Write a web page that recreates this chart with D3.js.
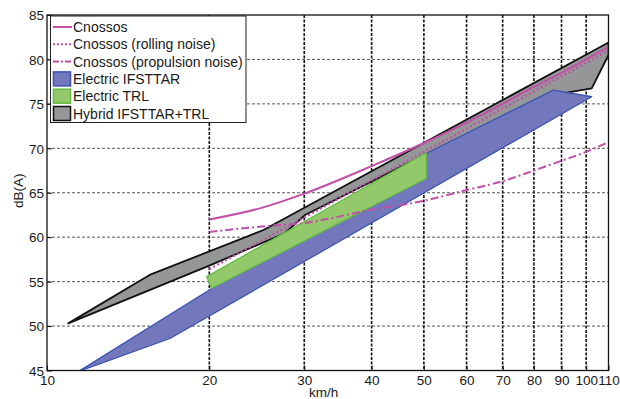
<!DOCTYPE html>
<html>
<head>
<meta charset="utf-8">
<script src="https://cdn.jsdelivr.net/npm/d3@7"></script>
<style>
  html, body { margin: 0; padding: 0; background: #fff; }
  svg { display: block; font-family: "Liberation Sans", Arial, sans-serif; }
</style>
</head>
<body>
<svg id="chart" width="620" height="399"></svg>
<script>
// ---- data ----
const speedTicks = [10, 20, 30, 40, 50, 60, 70, 80, 90, 100, 110];
const dbTicks = [45, 50, 55, 60, 65, 70, 75, 80, 85];

const lineSpeeds = [20, 25, 30, 40, 50, 60, 70, 80, 90, 100, 110];
const cnossos    = [62.0, 63.3, 64.9, 68.0, 70.6, 72.9, 75.0, 76.9, 78.5, 80.0, 81.4];
const rolling    = [56.4, 59.6, 62.2, 66.4, 69.6, 72.2, 74.5, 76.4, 78.1, 79.6, 81.0];
const propulsion = [60.6, 61.2, 61.6, 63.1, 64.1, 65.3, 66.3, 67.5, 68.6, 69.6, 70.7];

const hybridSpeeds = [10.95, 15.5, 25.2, 110, 110, 102.4, 87, 50, 30.1, 27.6, 20];
const hybridDb     = [50.3, 55.75, 60.81, 81.9, 80.5, 76.75, 76.0, 69.2, 62.5, 60.44, 56.8];

const ifsttarSpeeds = [11.45, 16.9, 102.4, 86.9, 50, 20];
const ifsttarDb     = [44.9, 48.6, 75.8, 76.55, 69.3, 54.06];

const trlSpeeds = [19.78, 50.5, 50.5, 20.2];
const trlDb     = [55.56, 69.5, 66.6, 54.25];

const legendLabels = ["Cnossos", "Cnossos (rolling noise)", "Cnossos (propulsion noise)",
                      "Electric IFSTTAR", "Electric TRL", "Hybrid IFSTTAR+TRL"];

// ---- styles ----
const magenta = "#c24fa7";
const blueFill = "#7378bc", blueStroke = "#3b54b3";
const greenFill = "#93c96b", greenStroke = "#66bb44";
const grayFill = "#959698", grayStroke = "#111";

const L = 47, R = 608.5, T = 15, B = 370.5;
const svg = d3.select("#chart");
const x = d3.scaleLog().domain([10, 110]).range([L, R]);
const y = d3.scaleLinear().domain([45, 85]).range([B, T]);

svg.append("defs").append("clipPath").attr("id", "clip")
  .append("rect").attr("x", L).attr("y", T).attr("width", R - L).attr("height", B - T);

// grid
const grid = svg.append("g");
grid.selectAll("line.h").data(dbTicks.slice(1, -1)).join("line")
  .attr("x1", L).attr("x2", R).attr("y1", d => y(d)).attr("y2", d => y(d))
  .attr("stroke", "#444").attr("stroke-width", 0.9).attr("stroke-dasharray", "3,2");
grid.selectAll("line.v").data(speedTicks.slice(1, -1)).join("line")
  .attr("x1", d => x(d)).attr("x2", d => x(d)).attr("y1", T).attr("y2", B)
  .attr("stroke", "#111").attr("stroke-width", 1.6).attr("stroke-dasharray", "3,1.5");

// polygons
const plot = svg.append("g").attr("clip-path", "url(#clip)");
const poly = (sp, db) => sp.map((s, i) => [x(s), y(db[i])]).map(p => p.join(",")).join(" ");

plot.append("polygon").attr("points", poly(hybridSpeeds, hybridDb))
  .attr("fill", grayFill).attr("stroke", grayStroke).attr("stroke-width", 1.8)
  .attr("stroke-linejoin", "round");
plot.append("polygon").attr("points", poly(ifsttarSpeeds, ifsttarDb))
  .attr("fill", blueFill).attr("stroke", blueStroke).attr("stroke-width", 1.3)
  .attr("stroke-linejoin", "round");
plot.append("polygon").attr("points", poly(trlSpeeds, trlDb))
  .attr("fill", greenFill).attr("stroke", greenStroke).attr("stroke-width", 1.3)
  .attr("stroke-linejoin", "round");

// lines
const line = d3.line().x(d => x(d[0])).y(d => y(d[1])).curve(d3.curveMonotoneX);
const zip = vals => lineSpeeds.map((s, i) => [s, vals[i]]);
plot.append("path").attr("d", line(zip(propulsion))).attr("fill", "none")
  .attr("stroke", magenta).attr("stroke-width", 2).attr("stroke-dasharray", "8,3,2,3");
plot.append("path").attr("d", line(zip(rolling))).attr("fill", "none")
  .attr("stroke", magenta).attr("stroke-width", 2.2).attr("stroke-dasharray", "2,2.5");
plot.append("path").attr("d", line(zip(cnossos))).attr("fill", "none")
  .attr("stroke", magenta).attr("stroke-width", 2);

// axes frame
const fontSize = 13.5;
const xAxis = d3.axisBottom(x).tickValues(speedTicks).tickFormat(d3.format("d"))
  .tickSizeInner(-5).tickSizeOuter(0).tickPadding(8);
const yAxis = d3.axisLeft(y).tickValues(dbTicks).tickFormat(d3.format("d"))
  .tickSizeInner(-5).tickSizeOuter(0).tickPadding(3);
const gx = svg.append("g").attr("transform", `translate(0,${B})`).call(xAxis);
const gy = svg.append("g").attr("transform", `translate(${L},0)`).call(yAxis);
[gx, gy].forEach(g => {
  g.selectAll("text").attr("font-size", fontSize).attr("fill", "#1a1a1a")
    .attr("font-family", "Liberation Sans, Arial, sans-serif");
  g.selectAll("line").attr("stroke", "#111");
  g.select(".domain").remove();
});
gx.selectAll("text").attr("dy", "0.5em");
gy.selectAll("text").attr("dy", "0.35em");
svg.append("rect").attr("x", L).attr("y", T).attr("width", R - L).attr("height", B - T)
  .attr("fill", "none").attr("stroke", "#111").attr("stroke-width", 1.3);

// axis labels
svg.append("text").attr("x", (L + R) / 2 - 4).attr("y", 397).attr("text-anchor", "middle")
  .attr("font-size", fontSize).attr("fill", "#1a1a1a").text("km/h");
svg.append("text").attr("transform", `translate(23,${(T + B) / 2 - 2}) rotate(-90)`)
  .attr("text-anchor", "middle").attr("font-size", fontSize).attr("fill", "#1a1a1a").text("dB(A)");

// legend
const legendFont = 14;
const lg = svg.append("g");
lg.append("rect").attr("x", 50.5).attr("y", 16).attr("width", 195.5).attr("height", 106.5)
  .attr("fill", "#fff").attr("stroke", "#222").attr("stroke-width", 1);
const rowY = i => 27 + i * 17.3;
const styles = [
  {type: "line", dash: null},
  {type: "line", dash: "2,2"},
  {type: "line", dash: "6,2,2,2"},
  {type: "patch", fill: blueFill, stroke: blueStroke},
  {type: "patch", fill: greenFill, stroke: greenStroke},
  {type: "patch", fill: grayFill, stroke: grayStroke}
];
legendLabels.forEach((lab, i) => {
  const st = styles[i];
  if (st.type === "line") {
    lg.append("line").attr("x1", 53).attr("x2", 72).attr("y1", rowY(i)).attr("y2", rowY(i))
      .attr("stroke", magenta).attr("stroke-width", 2)
      .attr("stroke-dasharray", st.dash);
  } else {
    lg.append("rect").attr("x", 53.5).attr("y", rowY(i) - 7).attr("width", 17).attr("height", 14)
      .attr("fill", st.fill).attr("stroke", st.stroke).attr("stroke-width", 1.5);
  }
  lg.append("text").attr("x", 73).attr("y", rowY(i)).attr("dy", "0.36em")
    .attr("font-size", legendFont).attr("fill", "#1a1a1a").text(lab);
});
</script>
</body>
</html>
